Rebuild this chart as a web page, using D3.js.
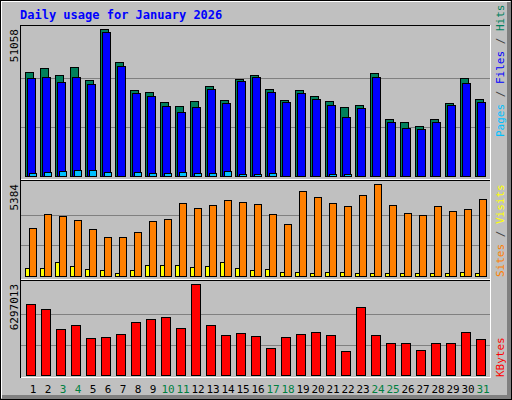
<!DOCTYPE html>
<meta charset="utf-8">
<style>body{margin:0;background:#fff}</style>
<body>
<script src="https://cdn.jsdelivr.net/npm/d3@7"></script>
<script>
var days = d3.range(1, 32);
var weekend = [3, 4, 10, 11, 17, 18, 24, 25, 31];
var hits = [36120,37510,35080,37860,33340,51058,39590,29870,29170,25700,24310,26050,31260,26400,33690,35080,30220,26400,29870,27780,26050,23960,24660,35770,19800,18750,17360,19800,25350,34040,26740];
var files = [34040,34380,32650,34380,31950,50010,38200,28830,27780,24310,22230,23960,30220,25350,32990,34380,29170,25700,28830,26740,24660,20490,23620,34380,18750,16670,16320,18750,24660,32300,25700];
var pages = [1040,1390,1740,2080,2080,1390,170,1390,1040,1040,1390,1040,1040,1740,690,690,1040,170,170,170,690,690,170,170,170,170,170,170,170,170,170];
var sites = [2790,3610,3490,3260,2730,2260,2260,2560,3200,3320,4250,3960,4140,4430,4310,4190,3610,3020,4950,4600,4250,4080,4720,5384,4140,3670,3550,4080,3790,3900,4490];
var visits = [468,468,819,585,410,351,175,351,644,644,644,527,585,819,468,351,410,234,234,175,234,234,175,175,175,175,175,175,175,234,175];
var kbytes = [4913000,4567000,3183000,3460000,2560000,2630000,2837000,3667000,3875000,4013000,3252000,6297013,3460000,2768000,2906000,2699000,1868000,2630000,2837000,2976000,2768000,1661000,4705000,2768000,2214000,2214000,1730000,2214000,2214000,2976000,2491000];

var W = 512, H = 400, font = "'DejaVu Sans Mono', monospace";
var svg = d3.select("body").append("svg").attr("width", W).attr("height", H)
    .style("display", "block").attr("shape-rendering", "crispEdges");

svg.append("rect").attr("x", 0.5).attr("y", 0.5).attr("width", W - 1).attr("height", H - 1)
    .attr("fill", "#c0c0c0").attr("stroke", "#000");
svg.append("path").attr("d", "M1.5,398V1.5H510").attr("stroke", "#fff").attr("fill", "none");
svg.append("rect").attr("x", 507).attr("y", 2).attr("width", 4).attr("height", 397).attr("fill", "#808080");
svg.append("rect").attr("x", 2).attr("y", 395).attr("width", 509).attr("height", 4).attr("fill", "#808080");

svg.append("text").attr("x", 20).attr("y", 19).text("Daily usage for January 2026")
    .attr("font-family", font).attr("font-size", 12).attr("font-weight", "bold").attr("fill", "#0000ff");

var x = d3.scaleLinear().domain([1, 32]).range([25, 490]);

var panels = [
  {top: 25, bottom: 180, base: 176, h: 147, max: 51058},
  {top: 180, bottom: 280, base: 276, h: 92, max: 5384},
  {top: 280, bottom: 378, base: 375, h: 91, max: 6297013}
];

panels.forEach(function(p) {
  p.y = d3.scaleLinear().domain([0, p.max]).range([p.base, p.base - p.h]);
  [1, 2].forEach(function(k) {
    var gy = Math.round(p.y(p.max * k / 3)) + 0.5;
    svg.append("line").attr("x1", 21).attr("x2", 490).attr("y1", gy).attr("y2", gy).attr("stroke", "#808080");
  });
  svg.append("path").attr("d", "M20.5," + p.bottom + "V" + (p.top + 0.5) + "H490.5").attr("stroke", "#000").attr("fill", "none");
  svg.append("path").attr("d", "M21," + (p.bottom - 0.5) + "H490.5V" + p.top).attr("stroke", "#fff").attr("fill", "none");
  svg.append("text").attr("transform", "translate(18," + (p.base - p.h) + ") rotate(-90)")
    .attr("text-anchor", "end").attr("font-family", font).attr("font-size", 11).attr("fill", "#000")
    .text(p.max);
});

function bars(data, p, dx, w, color) {
  svg.append("g").selectAll("rect").data(data).enter().append("rect")
    .attr("x", function(d, i) { return x(days[i]) + dx + 0.5; })
    .attr("y", function(d) { return Math.round(p.y(d)) + 0.5; })
    .attr("width", w)
    .attr("height", function(d) { return Math.max(0, p.base - Math.round(p.y(d))); })
    .attr("fill", color).attr("stroke", "#000");
}
bars(hits, panels[0], 0, 8, "#00805c");
bars(files, panels[0], 2, 8, "#0000ff");
bars(pages, panels[0], 4, 7, "#00c0ff");
bars(visits, panels[1], 0, 4, "#ffff00");
bars(sites, panels[1], 4, 7, "#ff8000");
bars(kbytes, panels[2], 1, 9, "#ff0000");

svg.append("g").selectAll("text").data(days).enter().append("text")
  .attr("x", function(d) { return x(d) + 8; }).attr("y", 393)
  .attr("text-anchor", "middle").attr("font-family", font).attr("font-size", 11)
  .attr("fill", function(d) { return weekend.indexOf(d) >= 0 ? "#008040" : "#000"; })
  .text(function(d) { return d; });

function sideLabel(y, parts) {
  var t = svg.append("text").attr("transform", "translate(504," + y + ") rotate(-90)")
    .attr("font-family", font).attr("font-size", 11);
  parts.forEach(function(s) { t.append("tspan").attr("fill", s[1]).text(s[0]); });
}
sideLabel(137, [["Pages", "#00c0ff"], [" / ", "#404040"], ["Files", "#0000ff"], [" / ", "#404040"], ["Hits", "#00805c"]]);
sideLabel(277, [["Sites", "#ff8000"], [" / ", "#404040"], ["Visits", "#ffff00"]]);
sideLabel(377, [["KBytes", "#ff0000"]]);
</script>
</body>
